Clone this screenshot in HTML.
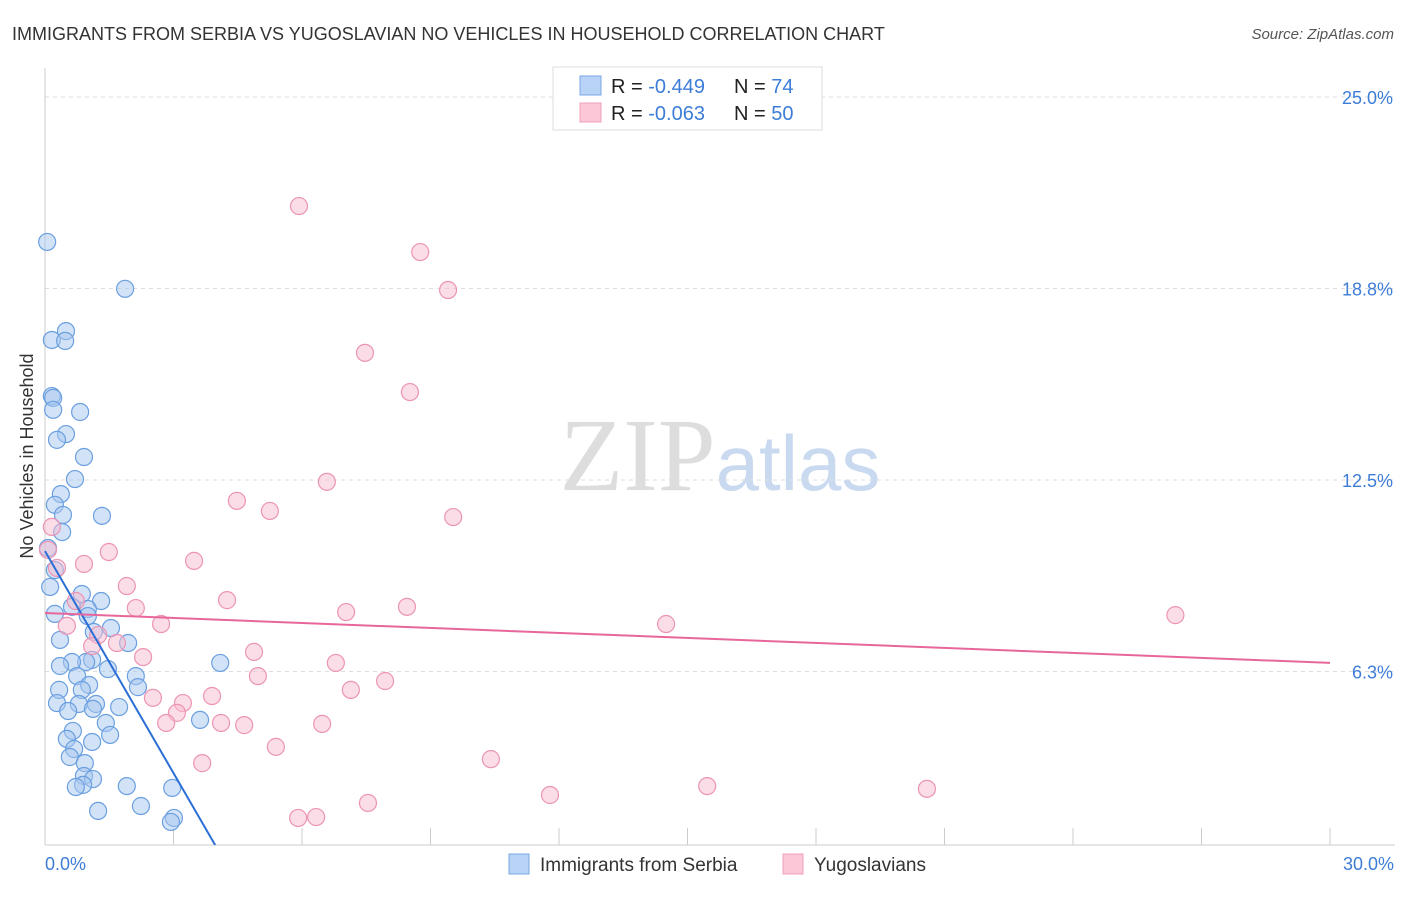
<!DOCTYPE html>
<html><head><meta charset="utf-8"><style>
body{margin:0;background:#fff;font-family:"Liberation Sans",sans-serif;}
</style></head><body>
<svg id="chart" width="1406" height="892" xmlns="http://www.w3.org/2000/svg" font-family="Liberation Sans, sans-serif">
<text x="12" y="40" font-size="18" fill="#333">IMMIGRANTS FROM SERBIA VS YUGOSLAVIAN NO VEHICLES IN HOUSEHOLD CORRELATION CHART</text>
<text x="1394" y="39" font-size="15" fill="#555" text-anchor="end" font-style="italic">Source: ZipAtlas.com</text>
<text x="720" y="490" font-size="104" text-anchor="middle" fill="#ddd" font-family="Liberation Serif, serif">ZIP<tspan fill="#c9daf0" font-family="Liberation Sans, sans-serif" font-size="78">atlas</tspan></text>
<g id="grid"></g>
<g id="axes"></g>
<g id="pts"></g>
<g id="trends"></g>
<text transform="translate(33,456) rotate(-90)" font-size="18" fill="#333" text-anchor="middle">No Vehicles in Household</text>
<text x="45" y="870" font-size="18" fill="#3d7dd8">0.0%</text>
<text x="1394" y="870" font-size="18" fill="#3d7dd8" text-anchor="end">30.0%</text>
<g>
<rect x="553" y="67" width="269" height="63" fill="#fff" stroke="#ddd"/>
<rect x="580" y="76" width="21" height="19" fill="#b8d3f5" stroke="#7aa8e6"/>
<rect x="580" y="103" width="21" height="19" fill="#fcc8d8" stroke="#f0a0ba"/>
<text x="611" y="93" font-size="20" fill="#222">R = <tspan fill="#3d7dd8">-0.449</tspan><tspan x="734">N = </tspan><tspan fill="#3d7dd8">74</tspan></text>
<text x="611" y="120" font-size="20" fill="#222">R = <tspan fill="#3d7dd8">-0.063</tspan><tspan x="734">N = </tspan><tspan fill="#3d7dd8">50</tspan></text>
</g>
<g><rect x="509" y="854" width="20" height="20" fill="#b8d3f5" stroke="#7aa8e6"/><text x="540" y="871" font-size="19" fill="#333">Immigrants from Serbia</text></g>
<g><rect x="783" y="854" width="20" height="20" fill="#fcc8d8" stroke="#f0a0ba"/><text x="814" y="871" font-size="19" fill="#333">Yugoslavians</text></g>
</svg>
<script>
const yTicks=[6.25,12.5,18.75,25];
const yTickLabels=["6.3%","12.5%","18.8%","25.0%"];
const xTicks=[0,3,6,9,12,15,18,21,24,27,30];
const serbiaX=[0.05,1.87,0.49,0.16,0.47,0.16,0.19,0.19,0.82,0.49,0.28,0.91,0.70,0.37,0.23,0.42,1.33,0.40,0.07,0.23,0.12,0.86,1.31,0.63,1.00,0.23,1.00,1.54,1.14,0.35,1.94,1.10,0.96,0.63,0.35,4.09,1.47,0.75,2.12,1.03,2.17,0.86,0.33,0.28,0.79,1.19,0.54,1.12,1.73,3.62,1.42,0.65,1.52,0.51,1.10,0.68,0.58,0.93,0.91,1.12,0.89,0.72,1.91,2.97,2.24,1.24,3.01,2.94];
const serbiaY=[20.27,18.74,17.36,17.07,17.04,15.24,15.18,14.79,14.72,14.00,13.81,13.25,12.53,12.04,11.69,11.36,11.33,10.80,10.28,9.56,9.01,8.78,8.55,8.36,8.29,8.13,8.06,7.67,7.54,7.28,7.18,6.63,6.56,6.56,6.43,6.53,6.33,6.10,6.10,5.81,5.74,5.65,5.65,5.22,5.19,5.19,4.96,5.03,5.09,4.67,4.57,4.31,4.18,4.05,3.95,3.72,3.46,3.26,2.84,2.74,2.55,2.48,2.51,2.45,1.86,1.70,1.47,1.34];
const yugoX=[5.93,8.76,9.41,7.47,8.52,6.58,4.48,5.25,9.53,0.16,0.07,1.49,3.48,0.91,0.28,1.91,4.25,0.72,2.12,7.03,8.45,26.39,0.51,2.71,14.50,1.24,1.68,1.10,4.88,2.29,6.79,4.97,7.94,7.14,3.90,2.52,3.22,3.08,2.83,4.11,4.65,6.47,5.39,3.67,10.41,15.46,11.79,20.59,7.54,5.91,6.33];
const yugoY=[21.44,19.94,18.70,16.65,15.37,12.44,11.82,11.49,11.29,10.97,10.22,10.15,9.86,9.76,9.63,9.04,8.58,8.55,8.32,8.19,8.36,8.09,7.74,7.80,7.80,7.44,7.18,7.08,6.89,6.72,6.53,6.10,5.94,5.65,5.45,5.39,5.22,4.90,4.57,4.57,4.50,4.54,3.79,3.26,3.39,2.51,2.22,2.42,1.96,1.47,1.50];
const serbiaTrend=[10.18,-2.415];
const yugoTrend=[8.16,-0.0543];
const NS="http://www.w3.org/2000/svg";
const X=v=>45+v/30*1285;
const Y=v=>863-v/6.25*191.5;
const yFloor=(863-845)/191.5*6.25;
function mk(t,a,p){const e=document.createElementNS(NS,t);for(const k in a)e.setAttribute(k,a[k]);p.appendChild(e);return e;}
const grid=document.getElementById('grid'),axes=document.getElementById('axes'),pts=document.getElementById('pts'),tr=document.getElementById('trends');
yTicks.forEach((v,i)=>{
 const l=mk('line',{x1:45,x2:1395,y1:Y(v),y2:Y(v),stroke:'#ddd','stroke-dasharray':'4,4'},grid);
 
 
 const t=mk('text',{x:1393,y:Y(v)+7,'font-size':18,fill:'#3d7dd8','text-anchor':'end'},grid);
 t.textContent=yTickLabels[i];
 
 
});
mk('line',{x1:45,x2:45,y1:68,y2:845,stroke:'#ccc'},axes);
mk('line',{x1:45,x2:1395,y1:845,y2:845,stroke:'#ccc'},axes);
xTicks.forEach(v=>{
 const l=mk('line',{x1:X(v),x2:X(v),y1:828,y2:845,stroke:'#ccc'},axes);
 
 
});
function dots(xs,ys,fill,stroke,name){
 xs.forEach((v,i)=>{
  const c=mk('circle',{cx:X(v),cy:Y(ys[i]),r:8.5,fill:fill,'fill-opacity':0.5,stroke:stroke,'stroke-width':1.2},pts);
  
  
 });
}
dots(serbiaX,serbiaY,'#a8c8f0','#6a9fe0','serbia-point');
dots(yugoX,yugoY,'#f7bcd0','#ec94b4','yugoslavian-point');
const sEnd=(yFloor-serbiaTrend[0])/serbiaTrend[1];
const s=mk('line',{x1:X(0),y1:Y(serbiaTrend[0]),x2:X(sEnd),y2:Y(serbiaTrend[0]+serbiaTrend[1]*sEnd),stroke:'#2b6fd6','stroke-width':2},tr);


const y=mk('line',{x1:X(0),y1:Y(yugoTrend[0]),x2:X(30),y2:Y(yugoTrend[0]+yugoTrend[1]*30),stroke:'#e8679a','stroke-width':2},tr);


</script>
</body></html>
